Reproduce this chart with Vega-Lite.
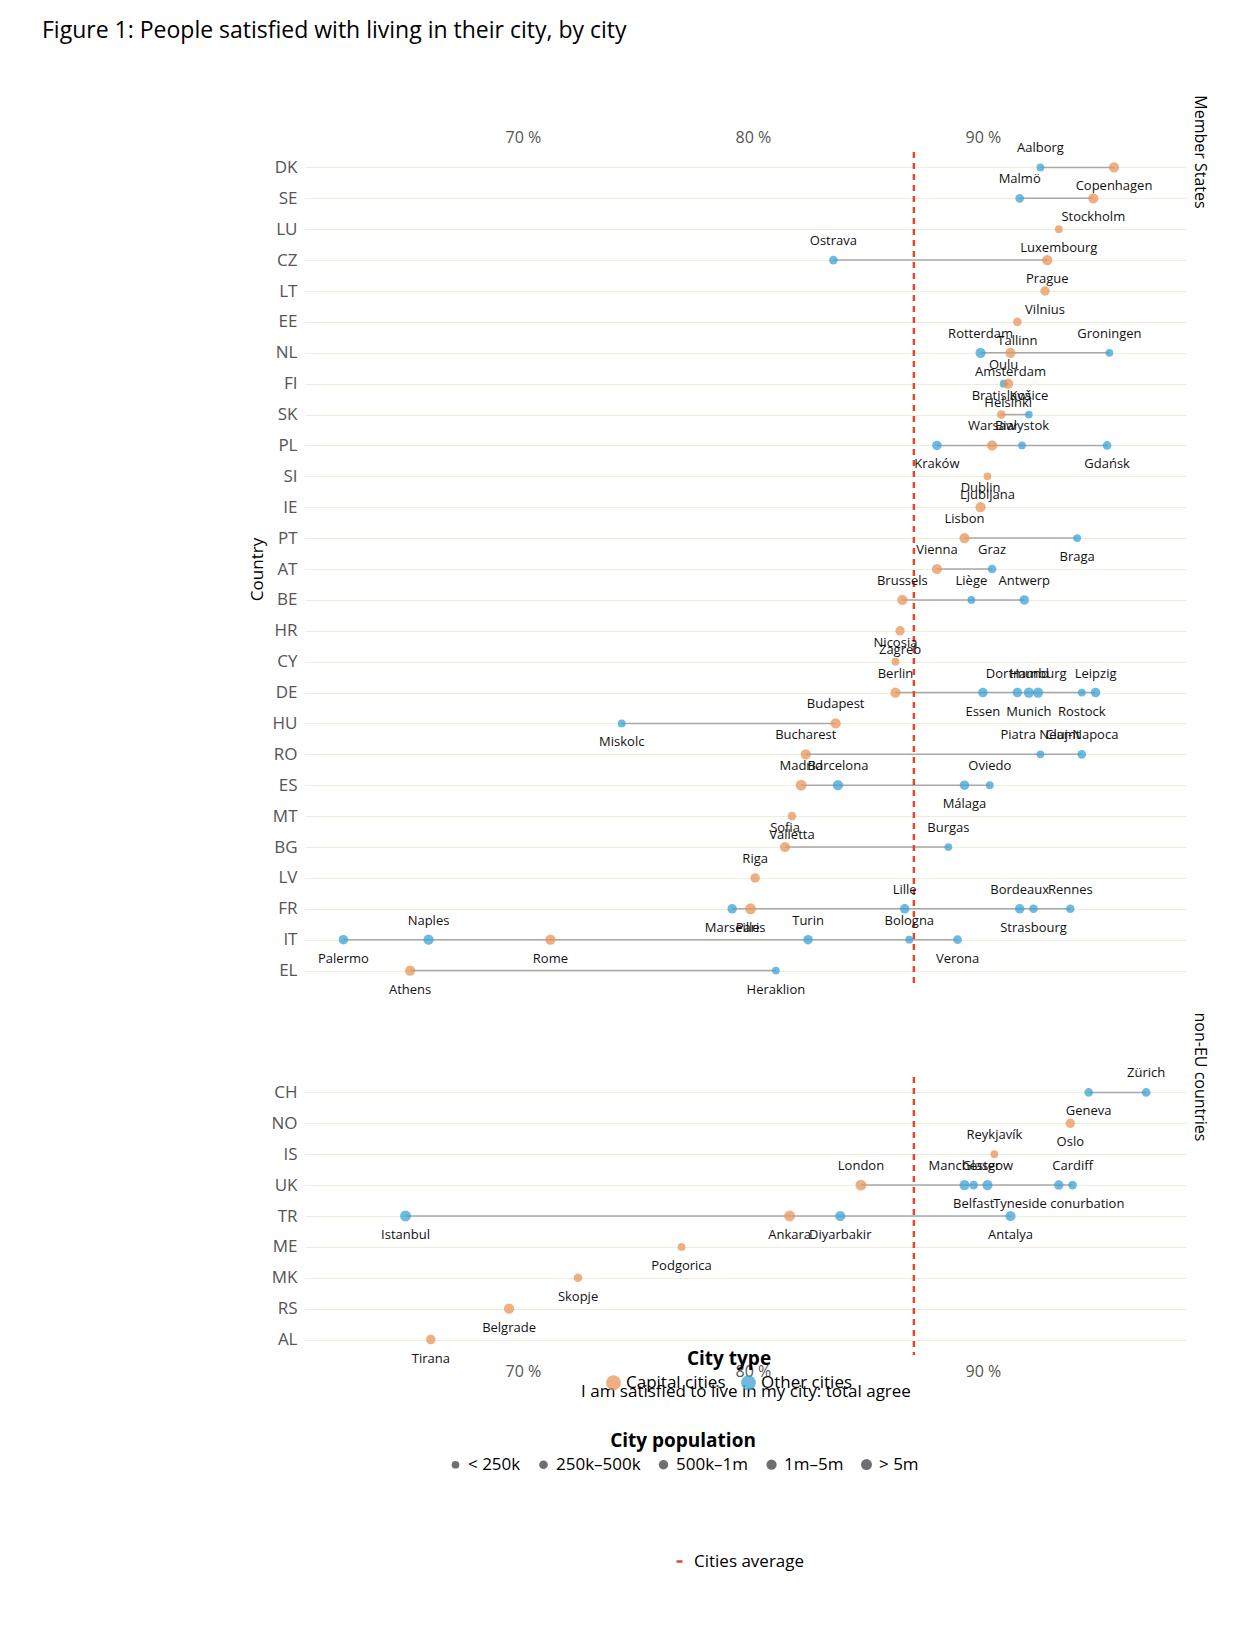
{
  "$schema": "https://vega.github.io/schema/vega-lite/v6.json",
  "background": "white",
  "padding": {"left": 42, "top": 20, "right": 10, "bottom": 10},
  "title": {"text": "Figure 1: People satisfied with living in their city, by city", "anchor": "start", "frame": "group", "dx": -263, "fontSize": 23, "fontWeight": "normal", "font": "Open Sans", "offset": 52},
  "config": {
    "font": "Open Sans",
    "view": {"stroke": null},
    "axis": {"labelFont": "Open Sans", "titleFont": "Open Sans"},
    "concat": {"spacing": 15}
  },
  "datasets": {
    "cities": [
      {"country": "DK", "city": "Aalborg", "type": "Other cities", "pop": "< 250k", "value": 92.5},
      {"country": "DK", "city": "Copenhagen", "type": "Capital cities", "pop": "1m–5m", "value": 95.7},
      {"country": "SE", "city": "Malmö", "type": "Other cities", "pop": "250k–500k", "value": 91.6},
      {"country": "SE", "city": "Stockholm", "type": "Capital cities", "pop": "1m–5m", "value": 94.8},
      {"country": "LU", "city": "Luxembourg", "type": "Capital cities", "pop": "< 250k", "value": 93.3},
      {"country": "CZ", "city": "Ostrava", "type": "Other cities", "pop": "250k–500k", "value": 83.5},
      {"country": "CZ", "city": "Prague", "type": "Capital cities", "pop": "1m–5m", "value": 92.8},
      {"country": "LT", "city": "Vilnius", "type": "Capital cities", "pop": "500k–1m", "value": 92.7},
      {"country": "EE", "city": "Tallinn", "type": "Capital cities", "pop": "250k–500k", "value": 91.5},
      {"country": "NL", "city": "Rotterdam", "type": "Other cities", "pop": "1m–5m", "value": 89.9},
      {"country": "NL", "city": "Amsterdam", "type": "Capital cities", "pop": "1m–5m", "value": 91.2},
      {"country": "NL", "city": "Groningen", "type": "Other cities", "pop": "< 250k", "value": 95.5},
      {"country": "FI", "city": "Oulu", "type": "Other cities", "pop": "< 250k", "value": 90.9},
      {"country": "FI", "city": "Helsinki", "type": "Capital cities", "pop": "1m–5m", "value": 91.1},
      {"country": "SK", "city": "Bratislava", "type": "Capital cities", "pop": "250k–500k", "value": 90.8},
      {"country": "SK", "city": "Košice", "type": "Other cities", "pop": "< 250k", "value": 92.0},
      {"country": "PL", "city": "Kraków", "type": "Other cities", "pop": "500k–1m", "value": 88.0},
      {"country": "PL", "city": "Warsaw", "type": "Capital cities", "pop": "1m–5m", "value": 90.4},
      {"country": "PL", "city": "Białystok", "type": "Other cities", "pop": "< 250k", "value": 91.7},
      {"country": "PL", "city": "Gdańsk", "type": "Other cities", "pop": "250k–500k", "value": 95.4},
      {"country": "SI", "city": "Ljubljana", "type": "Capital cities", "pop": "< 250k", "value": 90.2},
      {"country": "IE", "city": "Dublin", "type": "Capital cities", "pop": "1m–5m", "value": 89.9},
      {"country": "PT", "city": "Lisbon", "type": "Capital cities", "pop": "1m–5m", "value": 89.2},
      {"country": "PT", "city": "Braga", "type": "Other cities", "pop": "< 250k", "value": 94.1},
      {"country": "AT", "city": "Vienna", "type": "Capital cities", "pop": "1m–5m", "value": 88.0},
      {"country": "AT", "city": "Graz", "type": "Other cities", "pop": "250k–500k", "value": 90.4},
      {"country": "BE", "city": "Brussels", "type": "Capital cities", "pop": "1m–5m", "value": 86.5},
      {"country": "BE", "city": "Liège", "type": "Other cities", "pop": "< 250k", "value": 89.5},
      {"country": "BE", "city": "Antwerp", "type": "Other cities", "pop": "500k–1m", "value": 91.8},
      {"country": "HR", "city": "Zagreb", "type": "Capital cities", "pop": "500k–1m", "value": 86.4},
      {"country": "CY", "city": "Nicosia", "type": "Capital cities", "pop": "< 250k", "value": 86.2},
      {"country": "DE", "city": "Berlin", "type": "Capital cities", "pop": "1m–5m", "value": 86.2},
      {"country": "DE", "city": "Essen", "type": "Other cities", "pop": "500k–1m", "value": 90.0},
      {"country": "DE", "city": "Dortmund", "type": "Other cities", "pop": "500k–1m", "value": 91.5},
      {"country": "DE", "city": "Munich", "type": "Other cities", "pop": "1m–5m", "value": 92.0},
      {"country": "DE", "city": "Hamburg", "type": "Other cities", "pop": "1m–5m", "value": 92.4},
      {"country": "DE", "city": "Rostock", "type": "Other cities", "pop": "< 250k", "value": 94.3},
      {"country": "DE", "city": "Leipzig", "type": "Other cities", "pop": "500k–1m", "value": 94.9},
      {"country": "HU", "city": "Miskolc", "type": "Other cities", "pop": "< 250k", "value": 74.3},
      {"country": "HU", "city": "Budapest", "type": "Capital cities", "pop": "1m–5m", "value": 83.6},
      {"country": "RO", "city": "Bucharest", "type": "Capital cities", "pop": "1m–5m", "value": 82.3},
      {"country": "RO", "city": "Piatra Neamt", "type": "Other cities", "pop": "< 250k", "value": 92.5},
      {"country": "RO", "city": "Cluj-Napoca", "type": "Other cities", "pop": "250k–500k", "value": 94.3},
      {"country": "ES", "city": "Madrid", "type": "Capital cities", "pop": "> 5m", "value": 82.1},
      {"country": "ES", "city": "Barcelona", "type": "Other cities", "pop": "1m–5m", "value": 83.7},
      {"country": "ES", "city": "Málaga", "type": "Other cities", "pop": "500k–1m", "value": 89.2},
      {"country": "ES", "city": "Oviedo", "type": "Other cities", "pop": "< 250k", "value": 90.3},
      {"country": "MT", "city": "Valletta", "type": "Capital cities", "pop": "250k–500k", "value": 81.7},
      {"country": "BG", "city": "Sofia", "type": "Capital cities", "pop": "1m–5m", "value": 81.4},
      {"country": "BG", "city": "Burgas", "type": "Other cities", "pop": "< 250k", "value": 88.5},
      {"country": "LV", "city": "Riga", "type": "Capital cities", "pop": "500k–1m", "value": 80.1},
      {"country": "FR", "city": "Marseille", "type": "Other cities", "pop": "500k–1m", "value": 79.1},
      {"country": "FR", "city": "Paris", "type": "Capital cities", "pop": "> 5m", "value": 79.9},
      {"country": "FR", "city": "Lille", "type": "Other cities", "pop": "500k–1m", "value": 86.6},
      {"country": "FR", "city": "Bordeaux", "type": "Other cities", "pop": "500k–1m", "value": 91.6},
      {"country": "FR", "city": "Strasbourg", "type": "Other cities", "pop": "250k–500k", "value": 92.2},
      {"country": "FR", "city": "Rennes", "type": "Other cities", "pop": "250k–500k", "value": 93.8},
      {"country": "IT", "city": "Palermo", "type": "Other cities", "pop": "500k–1m", "value": 62.2},
      {"country": "IT", "city": "Naples", "type": "Other cities", "pop": "1m–5m", "value": 65.9},
      {"country": "IT", "city": "Rome", "type": "Capital cities", "pop": "1m–5m", "value": 71.2},
      {"country": "IT", "city": "Turin", "type": "Other cities", "pop": "500k–1m", "value": 82.4},
      {"country": "IT", "city": "Bologna", "type": "Other cities", "pop": "< 250k", "value": 86.8},
      {"country": "IT", "city": "Verona", "type": "Other cities", "pop": "250k–500k", "value": 88.9},
      {"country": "EL", "city": "Athens", "type": "Capital cities", "pop": "1m–5m", "value": 65.1},
      {"country": "EL", "city": "Heraklion", "type": "Other cities", "pop": "< 250k", "value": 81.0},
      {"country": "CH", "city": "Geneva", "type": "Other cities", "pop": "250k–500k", "value": 94.6},
      {"country": "CH", "city": "Zürich", "type": "Other cities", "pop": "250k–500k", "value": 97.1},
      {"country": "NO", "city": "Oslo", "type": "Capital cities", "pop": "500k–1m", "value": 93.8},
      {"country": "IS", "city": "Reykjavík", "type": "Capital cities", "pop": "< 250k", "value": 90.5},
      {"country": "UK", "city": "London", "type": "Capital cities", "pop": "> 5m", "value": 84.7},
      {"country": "UK", "city": "Manchester", "type": "Other cities", "pop": "1m–5m", "value": 89.2},
      {"country": "UK", "city": "Belfast", "type": "Other cities", "pop": "250k–500k", "value": 89.6},
      {"country": "UK", "city": "Glasgow", "type": "Other cities", "pop": "1m–5m", "value": 90.2},
      {"country": "UK", "city": "Tyneside conurbation", "type": "Other cities", "pop": "500k–1m", "value": 93.3},
      {"country": "UK", "city": "Cardiff", "type": "Other cities", "pop": "250k–500k", "value": 93.9},
      {"country": "TR", "city": "Istanbul", "type": "Other cities", "pop": "> 5m", "value": 64.9},
      {"country": "TR", "city": "Ankara", "type": "Capital cities", "pop": "> 5m", "value": 81.6},
      {"country": "TR", "city": "Diyarbakir", "type": "Other cities", "pop": "1m–5m", "value": 83.8},
      {"country": "TR", "city": "Antalya", "type": "Other cities", "pop": "1m–5m", "value": 91.2},
      {"country": "ME", "city": "Podgorica", "type": "Capital cities", "pop": "< 250k", "value": 76.9},
      {"country": "MK", "city": "Skopje", "type": "Capital cities", "pop": "250k–500k", "value": 72.4},
      {"country": "RS", "city": "Belgrade", "type": "Capital cities", "pop": "1m–5m", "value": 69.4},
      {"country": "AL", "city": "Tirana", "type": "Capital cities", "pop": "500k–1m", "value": 66.0}
    ],
    "average": [{"avg": 87.0, "label": "Cities average"}]
  },
  "vconcat": [
    {
      "width": 881,
      "height": 834,
      "layer": [
        {
          "data": {"name": "cities"},
          "transform": [{"filter": "indexof(['CH','NO','IS','UK','TR','ME','MK','RS','AL'], datum.country) < 0"}],
          "mark": {"type": "rule", "color": "#a8a8a8", "strokeWidth": 1.5},
          "encoding": {
            "y": {"field": "country", "type": "nominal", "sort": ["DK","SE","LU","CZ","LT","EE","NL","FI","SK","PL","SI","IE","PT","AT","BE","HR","CY","DE","HU","RO","ES","MT","BG","LV","FR","IT","EL"], "scale": {"type": "point", "padding": 0.5},
              "axis": {"title": "Country", "titleFontSize": 17, "titleFontWeight": "normal", "titleColor": "#000", "labelFontSize": 17, "labelColor": "#555", "labelPadding": 8, "titlePadding": 6, "ticks": false, "domain": false, "grid": true, "gridColor": "#eceedb", "gridWidth": 1.2}},
            "x": {"aggregate": "min", "field": "value", "type": "quantitative", "scale": {"domain": [60.53, 98.83], "nice": false, "zero": false},
              "axis": {"orient": "top", "values": [70, 80, 90], "labelExpr": "datum.value + ' %'", "labelFontSize": 16, "labelColor": "#555", "ticks": false, "domain": false, "grid": false, "title": null, "labelPadding": 7}},
            "x2": {"aggregate": "max", "field": "value"}
          }
        },
        {
          "data": {"name": "average"},
          "mark": {"type": "text", "text": "Member States", "angle": 90, "fontSize": 16, "color": "#000", "align": "center", "baseline": "middle"},
          "encoding": {
            "x": {"value": {"expr": "width + 14"}},
            "y": {"value": {"expr": "height * 0.485"}}
          }
        },
        {
          "data": {"name": "average"},
          "mark": {"type": "rule", "color": "#e0492e", "strokeWidth": 2.5},
          "encoding": {
            "x": {"field": "avg", "type": "quantitative"},
            "strokeDash": {"field": "label", "type": "nominal", "scale": {"range": [[6, 5]]},
              "legend": {"title": null, "orient": "none", "legendX": 368, "legendY": 1401, "symbolType": "stroke", "symbolStrokeColor": "#e0492e", "symbolStrokeWidth": 2.5, "symbolSize": 100, "labelFontSize": 17, "labelColor": "#000"}}
          }
        },
        {
          "data": {"name": "cities"},
          "transform": [{"filter": "indexof(['CH','NO','IS','UK','TR','ME','MK','RS','AL'], datum.country) < 0"}],
          "mark": {"type": "circle", "opacity": 0.75},
          "encoding": {
            "y": {"field": "country", "type": "nominal", "sort": ["DK","SE","LU","CZ","LT","EE","NL","FI","SK","PL","SI","IE","PT","AT","BE","HR","CY","DE","HU","RO","ES","MT","BG","LV","FR","IT","EL"]},
            "x": {"field": "value", "type": "quantitative"},
            "color": {"field": "type", "type": "nominal", "scale": {"domain": ["Capital cities", "Other cities"], "range": ["#e8955a", "#3ea2d6"]},
              "legend": {"title": "City type", "orient": "none", "legendX": 300, "legendY": 1198, "direction": "horizontal", "titleAnchor": "middle", "titleFontSize": 19, "titleFontWeight": "bold", "titleColor": "#000", "labelFontSize": 17, "labelColor": "#000", "symbolSize": 220, "symbolOpacity": 0.75, "columnPadding": 14}},
            "size": {"field": "pop", "type": "ordinal", "scale": {"domain": ["< 250k", "250k–500k", "500k–1m", "1m–5m", "> 5m"], "range": [60, 120, 220, 510, 1600]},
              "legend": {"title": "City population", "orient": "none", "legendX": 142, "legendY": 1280, "direction": "horizontal", "titleAnchor": "middle", "titleFontSize": 19, "titleFontWeight": "bold", "titleColor": "#000", "labelFontSize": 17, "labelColor": "#000", "symbolFillColor": "#999", "symbolStrokeColor": "#777", "symbolOpacity": 0.75, "columnPadding": 14}}
          }
        },
        {
          "data": {"name": "cities"},
          "transform": [
            {"filter": "indexof(['CH','NO','IS','UK','TR','ME','MK','RS','AL'], datum.country) < 0"},
            {"filter": "indexof(['Copenhagen','Stockholm','Luxembourg','Prague','Vilnius','Tallinn','Amsterdam','Helsinki','Kraków','Gdańsk','Ljubljana','Braga','Zagreb','Essen','Munich','Rostock','Miskolc','Málaga','Valletta','Marseille','Paris','Strasbourg','Palermo','Rome','Verona','Athens','Heraklion'], datum.city) >= 0"}
          ],
          "mark": {"type": "text", "dy": 13, "fontSize": 13, "color": "#111", "baseline": "top"},
          "encoding": {
            "y": {"field": "country", "type": "nominal", "sort": ["DK","SE","LU","CZ","LT","EE","NL","FI","SK","PL","SI","IE","PT","AT","BE","HR","CY","DE","HU","RO","ES","MT","BG","LV","FR","IT","EL"]},
            "x": {"field": "value", "type": "quantitative"},
            "text": {"field": "city"}
          }
        },
        {
          "data": {"name": "cities"},
          "transform": [
            {"filter": "indexof(['CH','NO','IS','UK','TR','ME','MK','RS','AL'], datum.country) < 0"},
            {"filter": "indexof(['Copenhagen','Stockholm','Luxembourg','Prague','Vilnius','Tallinn','Amsterdam','Helsinki','Kraków','Gdańsk','Ljubljana','Braga','Zagreb','Essen','Munich','Rostock','Miskolc','Málaga','Valletta','Marseille','Paris','Strasbourg','Palermo','Rome','Verona','Athens','Heraklion'], datum.city) < 0"}
          ],
          "mark": {"type": "text", "dy": -12, "fontSize": 13, "color": "#111", "baseline": "bottom"},
          "encoding": {
            "y": {"field": "country", "type": "nominal", "sort": ["DK","SE","LU","CZ","LT","EE","NL","FI","SK","PL","SI","IE","PT","AT","BE","HR","CY","DE","HU","RO","ES","MT","BG","LV","FR","IT","EL"]},
            "x": {"field": "value", "type": "quantitative"},
            "text": {"field": "city"}
          }
        }
      ]
    },
    {
      "width": 881,
      "height": 278,
      "title": {"text": ["Source: European Commission / DG Regional and Urban Policy, Survey on the Quality of Life in European Cities, 2023.", "Note: Percentages are based on all respondents (excluding ‘don’t know’ / not answered)."], "orient": "bottom", "anchor": "start", "frame": "group", "dx": -263, "offset": 341, "fontSize": 16, "fontWeight": "normal", "color": "#000", "lineHeight": 23},
      "layer": [
        {
          "data": {"name": "cities"},
          "transform": [{"filter": "indexof(['CH','NO','IS','UK','TR','ME','MK','RS','AL'], datum.country) >= 0"}],
          "mark": {"type": "rule", "color": "#a8a8a8", "strokeWidth": 1.5},
          "encoding": {
            "y": {"field": "country", "type": "nominal", "sort": ["CH","NO","IS","UK","TR","ME","MK","RS","AL"], "scale": {"type": "point", "padding": 0.5},
              "axis": {"title": null, "labelFontSize": 17, "labelColor": "#555", "labelPadding": 8, "ticks": false, "domain": false, "grid": true, "gridColor": "#eceedb", "gridWidth": 1.2}},
            "x": {"aggregate": "min", "field": "value", "type": "quantitative", "scale": {"domain": [60.53, 98.83], "nice": false, "zero": false},
              "axis": {"orient": "bottom", "values": [70, 80, 90], "labelExpr": "datum.value + ' %'", "labelFontSize": 16, "labelColor": "#555", "ticks": false, "domain": false, "grid": false, "title": "I am satisfied to live in my city: total agree", "titleFontSize": 17, "titleFontWeight": "normal", "titleColor": "#000", "labelPadding": 8, "titlePadding": 4}},
            "x2": {"aggregate": "max", "field": "value"}
          }
        },
        {
          "data": {"name": "average"},
          "mark": {"type": "text", "text": "non-EU countries", "angle": 90, "fontSize": 16, "color": "#000", "align": "center", "baseline": "middle"},
          "encoding": {
            "x": {"value": {"expr": "width + 14"}},
            "y": {"value": {"expr": "height / 2"}}
          }
        },
        {
          "data": {"name": "average"},
          "mark": {"type": "rule", "color": "#e0492e", "strokeWidth": 2.5},
          "encoding": {
            "x": {"field": "avg", "type": "quantitative"},
            "strokeDash": {"field": "label", "type": "nominal", "scale": {"range": [[6, 5]]}}
          }
        },
        {
          "data": {"name": "cities"},
          "transform": [{"filter": "indexof(['CH','NO','IS','UK','TR','ME','MK','RS','AL'], datum.country) >= 0"}],
          "mark": {"type": "circle", "opacity": 0.75},
          "encoding": {
            "y": {"field": "country", "type": "nominal", "sort": ["CH","NO","IS","UK","TR","ME","MK","RS","AL"]},
            "x": {"field": "value", "type": "quantitative"},
            "color": {"field": "type", "type": "nominal", "scale": {"domain": ["Capital cities", "Other cities"], "range": ["#e8955a", "#3ea2d6"]}},
            "size": {"field": "pop", "type": "ordinal", "scale": {"domain": ["< 250k", "250k–500k", "500k–1m", "1m–5m", "> 5m"], "range": [60, 120, 220, 510, 1600]}}
          }
        },
        {
          "data": {"name": "cities"},
          "transform": [
            {"filter": "indexof(['CH','NO','IS','UK','TR','ME','MK','RS','AL'], datum.country) >= 0"},
            {"filter": "indexof(['Geneva','Oslo','Belfast','Tyneside conurbation','Istanbul','Ankara','Diyarbakir','Antalya','Podgorica','Skopje','Belgrade','Tirana'], datum.city) >= 0"}
          ],
          "mark": {"type": "text", "dy": 13, "fontSize": 13, "color": "#111", "baseline": "top"},
          "encoding": {
            "y": {"field": "country", "type": "nominal", "sort": ["CH","NO","IS","UK","TR","ME","MK","RS","AL"]},
            "x": {"field": "value", "type": "quantitative"},
            "text": {"field": "city"}
          }
        },
        {
          "data": {"name": "cities"},
          "transform": [
            {"filter": "indexof(['CH','NO','IS','UK','TR','ME','MK','RS','AL'], datum.country) >= 0"},
            {"filter": "indexof(['Geneva','Oslo','Belfast','Tyneside conurbation','Istanbul','Ankara','Diyarbakir','Antalya','Podgorica','Skopje','Belgrade','Tirana'], datum.city) < 0"}
          ],
          "mark": {"type": "text", "dy": -12, "fontSize": 13, "color": "#111", "baseline": "bottom"},
          "encoding": {
            "y": {"field": "country", "type": "nominal", "sort": ["CH","NO","IS","UK","TR","ME","MK","RS","AL"]},
            "x": {"field": "value", "type": "quantitative"},
            "text": {"field": "city"}
          }
        }
      ]
    }
  ]
}
